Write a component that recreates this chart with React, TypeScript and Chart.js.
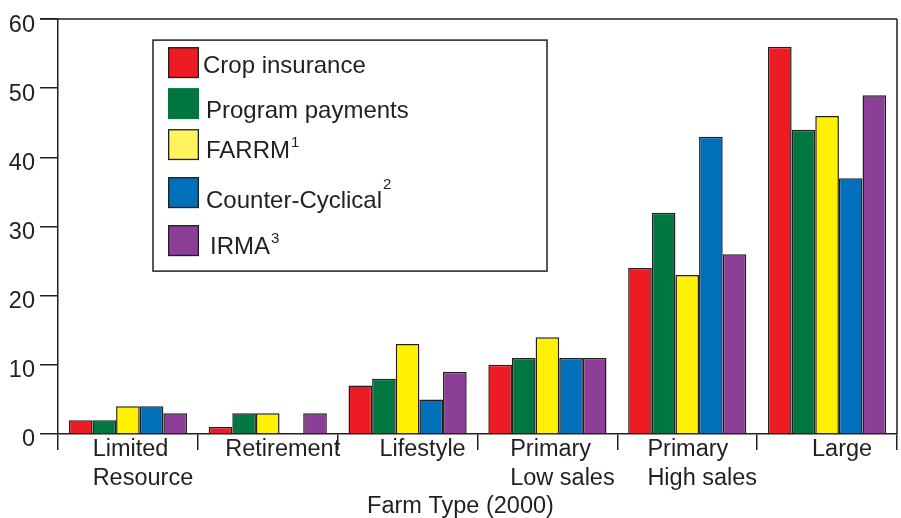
import React, { useEffect, useRef } from "react";
import { Chart, registerables } from "chart.js";

Chart.register(...registerables);

const categories: string[][] = [
  ["Limited", "Resource"],
  ["Retirement"],
  ["Lifestyle"],
  ["Primary", "Low sales"],
  ["Primary", "High sales"],
  ["Large"],
];
const seriesNames = ["Crop insurance", "Program payments", "FARRM", "Counter-Cyclical", "IRMA"];
const seriesNotes = ["", "", "1", "2", "3"];
const cropInsurance = [2, 1, 7, 10, 24, 56];
const programPayments = [2, 3, 8, 11, 32, 44];
const farrm = [4, 3, 13, 14, 23, 46];
const counterCyclical = [4, 0, 5, 11, 43, 37];
const irma = [3, 3, 9, 11, 26, 49];
const yMin = 0;
const yMax = 60;
const yStep = 10;
const xAxisTitle = "Farm Type (2000)";

const seriesColors = ["#ED1C24", "#00773F", "#FFF100", "#0070BA", "#8C3F97"];
const legendColors = ["#ED1C24", "#00773F", "#FFF35E", "#0070BA", "#8C3F97"];
const ink = "#231F20";
const FONT = '"Liberation Sans", Arial, Helvetica, sans-serif';

const framePlugin = {
  id: "frame",
  afterDraw(chart: any) {
    const { ctx, chartArea } = chart;
    const { left, right, top, bottom } = chartArea;
    ctx.save();
    ctx.strokeStyle = ink;
    ctx.lineWidth = 1.5;
    ctx.beginPath();
    ctx.moveTo(left - 18, top);
    ctx.lineTo(right, top);
    ctx.moveTo(right, top);
    ctx.lineTo(right, bottom);
    ctx.stroke();

    // x category labels
    const xs = chart.scales.x;
    ctx.fillStyle = ink;
    ctx.font = `23.5px ${FONT}`;
    ctx.textAlign = "left";
    ctx.textBaseline = "alphabetic";
    categories.forEach((lines, i) => {
      const c = xs.getPixelForValue(i);
      const maxW = Math.max(...lines.map((l) => ctx.measureText(l).width));
      const x0 = c - maxW / 2 + 15;
      lines.forEach((l, j) => {
        ctx.fillText(l, x0, bottom + 22 + j * 29);
      });
    });
    // axis title
    ctx.textAlign = "center";
    ctx.fillText(xAxisTitle, (left + right) / 2 - 17, bottom + 79);

    // legend
    const bx = left + 95;
    const by = top + 21;
    const bw = 394;
    const bh = 231;
    ctx.fillStyle = "#ffffff";
    ctx.fillRect(bx, by, bw, bh);
    ctx.strokeStyle = ink;
    ctx.lineWidth = 1.5;
    ctx.strokeRect(bx, by, bw, bh);
    const swTop = [7, 48, 89, 137, 185];
    const txtBase = [33, 78, 118, 168, 214];
    const txtX = [50, 53, 53, 53, 57];
    const supRaise = [0, 0, 11, 19, 11];
    seriesNames.forEach((name, i) => {
      const sx = bx + 15;
      const sy = by + swTop[i];
      ctx.fillStyle = legendColors[i];
      ctx.fillRect(sx, sy, 31, 31);
      if (i !== 1) {
        ctx.strokeStyle = ink;
        ctx.lineWidth = 1.3;
        ctx.strokeRect(sx + 0.65, sy + 0.65, 29.7, 29.7);
      }
      ctx.fillStyle = ink;
      ctx.font = `24px ${FONT}`;
      ctx.textAlign = "left";
      const tx = bx + txtX[i];
      const ty = by + txtBase[i];
      ctx.fillText(name, tx, ty);
      if (seriesNotes[i]) {
        const w = ctx.measureText(name).width;
        ctx.font = `15px ${FONT}`;
        ctx.fillText(seriesNotes[i], tx + w + 1, ty - supRaise[i]);
      }
    });
    ctx.restore();
  },
};

export default function App() {
  const ref = useRef<HTMLCanvasElement | null>(null);
  useEffect(() => {
    if (!ref.current) return;
    const values = [cropInsurance, programPayments, farrm, counterCyclical, irma];
    const chart = new Chart(ref.current, {
      type: "bar",
      data: {
        labels: categories.map((c) => c.join(" ")),
        datasets: seriesNames.map((name, i) => ({
          label: name,
          data: values[i],
          backgroundColor: seriesColors[i],
          borderColor: ink,
          borderWidth: 1.5,
          categoryPercentage: 0.845,
          barPercentage: 1.0,
        })),
      },
      options: {
        animation: false,
        responsive: true,
        maintainAspectRatio: false,
        layout: { padding: { left: 0, top: 13, right: 4, bottom: 0 } },
        plugins: { legend: { display: false }, tooltip: { enabled: false } },
        scales: {
          x: {
            grid: {
              display: true,
              drawOnChartArea: false,
              drawTicks: true,
              tickLength: 16,
              color: ink,
              lineWidth: 1.5,
              offset: true,
            },
            border: { display: true, color: ink, width: 1.5 },
            ticks: { display: false },
            afterFit: (s: any) => {
              s.height = 84;
            },
          },
          y: {
            min: yMin,
            max: yMax,
            ticks: {
              stepSize: yStep,
              font: { family: FONT, size: 23.5 },
              color: ink,
              padding: 5,
              labelOffset: 6,
            },
            grid: {
              drawOnChartArea: false,
              drawTicks: true,
              tickLength: 18,
              color: ink,
              lineWidth: 1.5,
            },
            border: { display: true, color: ink, width: 1.5 },
            afterFit: (s: any) => {
              s.width = 58;
            },
          },
        },
      },
      plugins: [framePlugin],
    });
    return () => chart.destroy();
  }, []);
  return (
    <div style={{ position: "absolute", left: 0, top: 0, width: 901, height: 518, background: "#fff" }}>
      <canvas ref={ref} />
    </div>
  );
}
